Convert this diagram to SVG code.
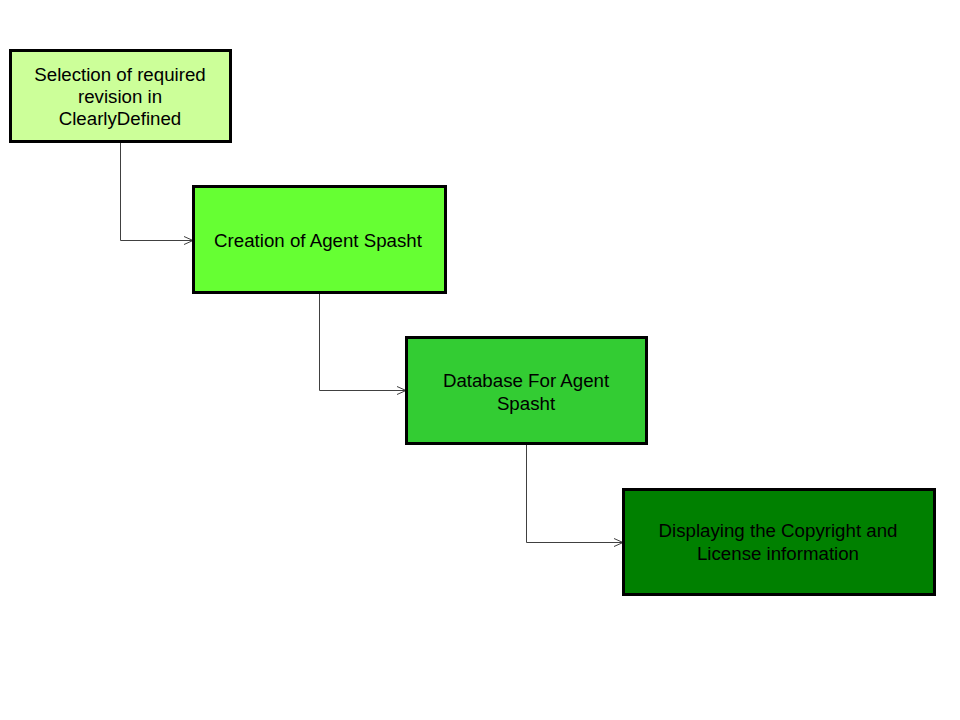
<svg xmlns="http://www.w3.org/2000/svg" width="960" height="720" viewBox="0 0 960 720">
<defs>
<style>
.box{stroke:#000;stroke-width:3}
.t{font-family:"Liberation Sans",Arial,sans-serif;font-size:18.7px;fill:#000;text-anchor:middle}
.c{fill:none;stroke:#404040;stroke-width:1}
</style>
<marker id="arr" viewBox="0 0 10 10" refX="10" refY="5" markerWidth="10" markerHeight="10" markerUnits="userSpaceOnUse" orient="auto">
<path d="M1,1 L10,5 L1,9" fill="none" stroke="#404040" stroke-width="1"/>
</marker>
</defs>
<rect width="960" height="720" fill="#fff"/>
<g id="connectors">
<path class="c" d="M120.5,141 V240.5 H193" marker-end="url(#arr)"/>
<path class="c" d="M319.5,292 V390.5 H406" marker-end="url(#arr)"/>
<path class="c" d="M526.5,443 V542.5 H623" marker-end="url(#arr)"/>
</g>
<g id="n1">
<rect class="box" x="10.5" y="50.5" width="220" height="91" fill="#CCFF99"/>
<text class="t" x="120" y="80.5">Selection of required</text>
<text class="t" x="120" y="102.5">revision in</text>
<text class="t" x="120" y="124.5">ClearlyDefined</text>
</g>
<g id="n2">
<rect class="box" x="193.5" y="186.5" width="252" height="106" fill="#66FF33"/>
<text class="t" x="318" y="246.5">Creation of Agent Spasht</text>
</g>
<g id="n3">
<rect class="box" x="406.5" y="337.5" width="240" height="106" fill="#33CC33"/>
<text class="t" x="526" y="386.5">Database For Agent</text>
<text class="t" x="526" y="409.5">Spasht</text>
</g>
<g id="n4">
<rect class="box" x="623.5" y="489.5" width="311" height="105" fill="#008000"/>
<text class="t" x="778" y="536.5">Displaying the Copyright and</text>
<text class="t" x="778" y="559.5">License information</text>
</g>
</svg>
